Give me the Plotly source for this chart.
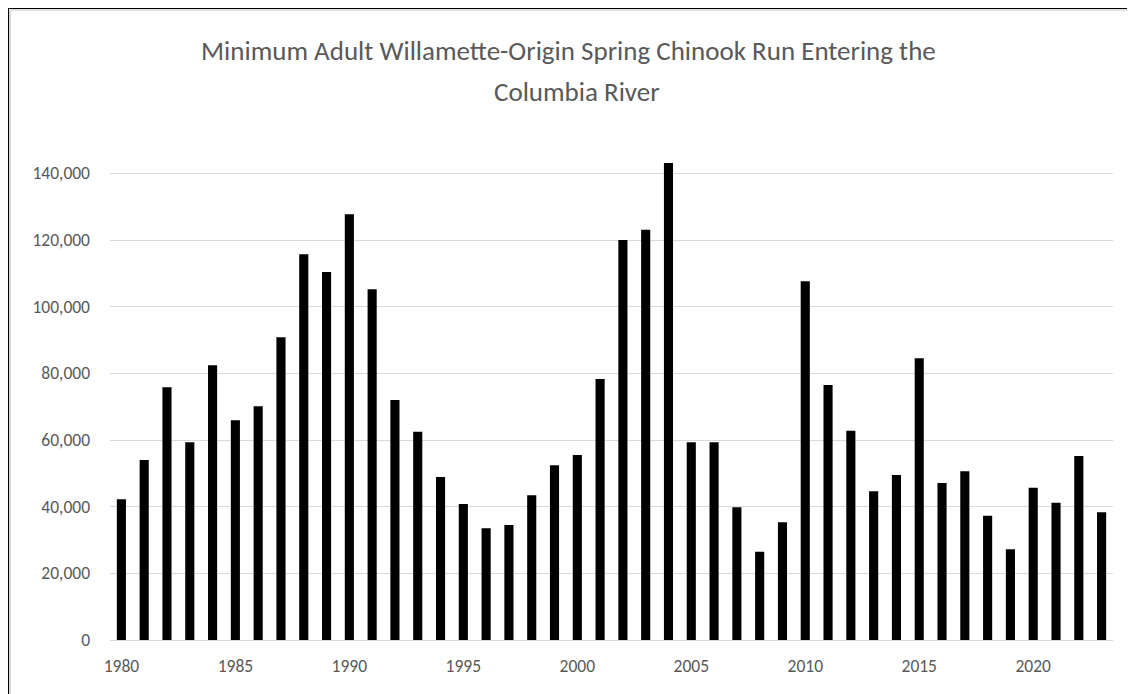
import plotly.graph_objects as go

years = list(range(1980, 2024))
run_size = [
    42200, 54000, 75800, 59300, 82400, 65900, 70100, 90800, 115700, 110400,
    127700, 105200, 72000, 62500, 48900, 40800, 33500, 34500, 43400, 52400,
    55500, 78300, 120000, 123100, 143100, 59300, 59300, 39800, 26500, 35300,
    107600, 76500, 62800, 44600, 49500, 84500, 47100, 50600, 37300, 27200,
    45700, 41200, 55200, 38300,
]
y_ticks = [0, 20000, 40000, 60000, 80000, 100000, 120000, 140000]
x_ticks = [1980, 1985, 1990, 1995, 2000, 2005, 2010, 2015, 2020]
title_lines = ["Minimum Adult Willamette-Origin Spring Chinook Run Entering the",
               "Columbia River"]

TITLE_FONT = "Carlito, Calibri, Lato, sans-serif"
FONT = "Carlito, Calibri, Lato, sans-serif"
GRAY = "#595959"

# plot area in figure pixels
L, T, W, H = 102, 132, 1003, 500
FIG_W, FIG_H = 1135, 694


def px(xf):
    return (xf - L) / W


def py(yf):
    return (T + H - yf) / H


fig = go.Figure(
    go.Bar(
        x=years,
        y=run_size,
        width=0.4,
        marker=dict(color="black", line=dict(width=0)),
    )
)

fig.update_layout(
    width=FIG_W,
    height=FIG_H,
    paper_bgcolor="white",
    plot_bgcolor="white",
    showlegend=False,
    margin=dict(l=L, r=FIG_W - L - W, t=T, b=FIG_H - T - H),
    font=dict(family=FONT, size=17, color=GRAY),
    annotations=[
        dict(text=title_lines[0], xref="paper", yref="paper",
             x=px(560), y=py(42), xanchor="center", yanchor="middle",
             showarrow=False, font=dict(family=TITLE_FONT, size=27, color=GRAY)),
        dict(text=title_lines[1], xref="paper", yref="paper",
             x=px(569), y=py(84), xanchor="center", yanchor="middle",
             showarrow=False, font=dict(family=TITLE_FONT, size=27, color=GRAY)),
    ],
    shapes=[
        dict(type="line", xref="paper", yref="paper",
             x0=px(0), x1=px(FIG_W + 5), y0=py(0), y1=py(0),
             line=dict(color="black", width=2)),
        dict(type="line", xref="paper", yref="paper",
             x0=px(2), x1=px(FIG_W + 5), y0=py(2), y1=py(2),
             line=dict(color="#d9d9d9", width=1.5)),
        dict(type="line", xref="paper", yref="paper",
             x0=px(0), x1=px(0), y0=py(0), y1=py(FIG_H + 5),
             line=dict(color="black", width=2)),
        dict(type="line", xref="paper", yref="paper",
             x0=px(2), x1=px(2), y0=py(2), y1=py(FIG_H + 5),
             line=dict(color="#d9d9d9", width=2)),
    ],
)

fig.update_xaxes(
    range=[1979.5, 2023.5],
    tickvals=x_ticks,
    ticktext=[str(t) for t in x_ticks],
    showgrid=False,
    showline=True,
    linecolor="#d9d9d9",
    linewidth=1,
    ticks="",
    ticklabelstandoff=10,
    tickfont=dict(family=FONT, size=17.5, color=GRAY),
)
fig.update_yaxes(
    range=[0, 150000],
    tickvals=y_ticks,
    ticktext=[f"{v:,}" for v in y_ticks],
    showgrid=True,
    gridcolor="#d9d9d9",
    gridwidth=1,
    zeroline=False,
    showline=False,
    ticks="",
    ticklabelstandoff=19,
    tickfont=dict(family=FONT, size=17.5, color=GRAY),
)

fig.write_html("out.html")
